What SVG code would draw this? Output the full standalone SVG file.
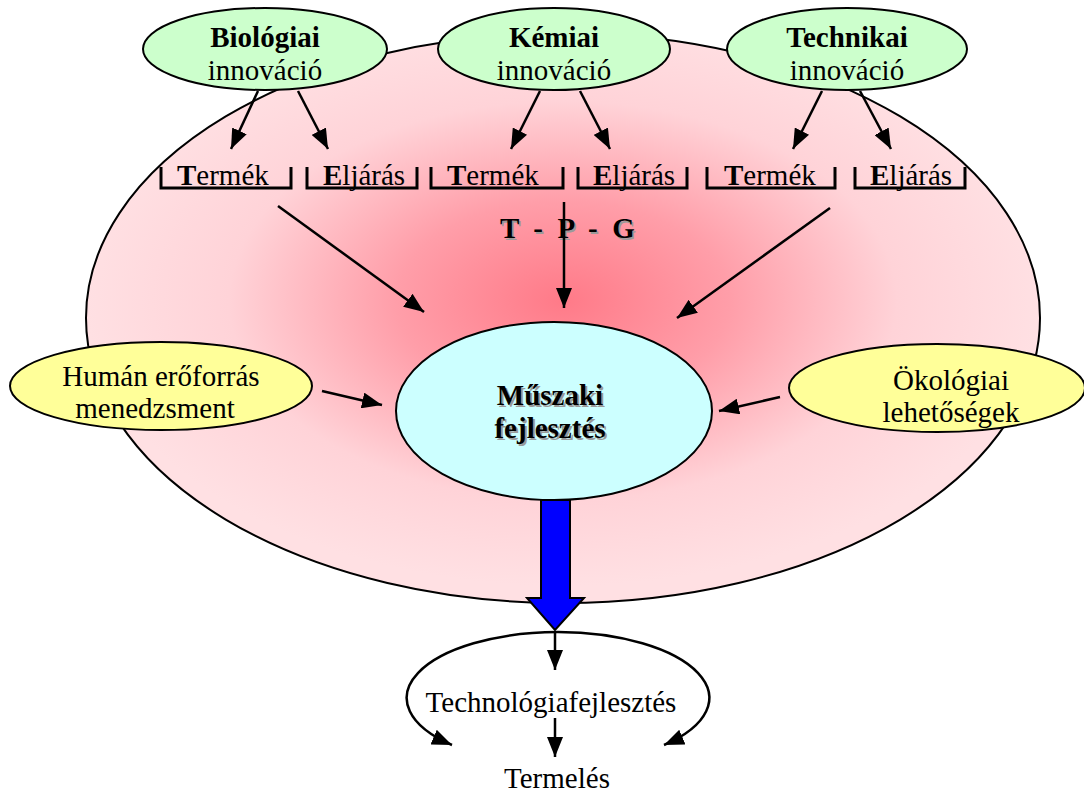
<svg xmlns="http://www.w3.org/2000/svg" width="1084" height="796" viewBox="0 0 1084 796">
<style>
text{font-family:"Liberation Serif","Times New Roman",serif;fill:#000;}
.t{font-size:29px;}
.c{text-anchor:middle;}
.b{font-weight:bold;}
.sh{fill:#9a9a9a;}
.node{stroke:#000;stroke-width:2;}
.ln{stroke:#000;stroke-width:2.5;fill:none;}
.br{stroke:#000;stroke-width:3;fill:none;}
</style>
<defs>
<radialGradient id="pink" cx="0.5" cy="0.47" r="0.5">
<stop offset="0" stop-color="#ff7a88"/>
<stop offset="0.35" stop-color="#ff9ea9"/>
<stop offset="0.7" stop-color="#ffd3d8"/>
<stop offset="1" stop-color="#ffe0e3"/>
</radialGradient>
<marker id="ah" viewBox="0 0 10 10" refX="10" refY="5" markerWidth="8" markerHeight="8" markerUnits="userSpaceOnUse" orient="auto" style="overflow:visible">
<path d="M0,0 L10,5 L0,10 z" fill="#000"/>
</marker>
<marker id="a" viewBox="0 0 20 16" refX="20" refY="8" markerWidth="20" markerHeight="16" markerUnits="userSpaceOnUse" orient="auto">
<path d="M0,0 L20,8 L0,16 z" fill="#000"/>
</marker>
</defs>

<g id="background">
<ellipse cx="563" cy="318" rx="477" ry="285" fill="url(#pink)" stroke="#000" stroke-width="2"/>
</g>

<g id="biologiai">
<ellipse class="node" cx="265" cy="49" rx="122" ry="41" fill="#ccffcc"/>
<text class="t c b" x="265" y="47">Biológiai</text>
<text class="t c" x="265" y="80">innováció</text>
</g>
<g id="kemiai">
<ellipse class="node" cx="554" cy="49" rx="116" ry="41" fill="#ccffcc"/>
<text class="t c b" x="554" y="47">Kémiai</text>
<text class="t c" x="554" y="80">innováció</text>
</g>
<g id="technikai">
<ellipse class="node" cx="847" cy="49" rx="120" ry="41" fill="#ccffcc"/>
<text class="t c b" x="847" y="47">Technikai</text>
<text class="t c" x="847" y="80">innováció</text>
</g>

<g id="brackets">
<path class="br" d="M161,167 V188 H291 V167"/>
<text class="t" x="177" y="185"><tspan class="b">T</tspan>ermék</text>
<path class="br" d="M307,167 V188 H417 V167"/>
<text class="t" x="323" y="185"><tspan class="b">E</tspan>ljárás</text>
<path class="br" d="M431,167 V188 H563 V167"/>
<text class="t" x="447" y="185"><tspan class="b">T</tspan>ermék</text>
<path class="br" d="M578,167 V188 H687 V167"/>
<text class="t" x="593" y="185"><tspan class="b">E</tspan>ljárás</text>
<path class="br" d="M707,167 V188 H835 V167"/>
<text class="t" x="724" y="185"><tspan class="b">T</tspan>ermék</text>
<path class="br" d="M855,167 V188 H965 V167"/>
<text class="t" x="870" y="185"><tspan class="b">E</tspan>ljárás</text>
</g>

<g id="tpg">
<text class="t b sh" x="501.5" y="239.5" xml:space="preserve">T  -  P  -  G</text>
<text class="t b" x="500" y="238" xml:space="preserve">T  -  P  -  G</text>
</g>

<g id="connectors">
<line class="ln" x1="258" y1="91" x2="231" y2="149" marker-end="url(#a)"/>
<line class="ln" x1="298" y1="91" x2="328" y2="149" marker-end="url(#a)"/>
<line class="ln" x1="540" y1="91" x2="511" y2="149" marker-end="url(#a)"/>
<line class="ln" x1="580" y1="91" x2="610" y2="149" marker-end="url(#a)"/>
<line class="ln" x1="822" y1="91" x2="793" y2="149" marker-end="url(#a)"/>
<line class="ln" x1="860" y1="91" x2="891" y2="149" marker-end="url(#a)"/>
<line class="ln" x1="278" y1="206" x2="424" y2="312" marker-end="url(#a)"/>
<line class="ln" x1="564" y1="202" x2="564" y2="308" marker-end="url(#a)"/>
<line class="ln" x1="830" y1="208" x2="677" y2="318" marker-end="url(#a)"/>
<line class="ln" x1="322" y1="391" x2="382" y2="405" marker-end="url(#a)"/>
<line class="ln" x1="780" y1="397" x2="719" y2="411" marker-end="url(#a)"/>
<path d="M541,500 H570 V598 H584 L555,630 L527,598 H541 Z" fill="#0000ff" stroke="#000" stroke-width="2"/>
<line class="ln" x1="555" y1="631" x2="555" y2="670" marker-end="url(#a)"/>
<line class="ln" x1="555" y1="718" x2="555" y2="757" marker-end="url(#a)"/>
<path class="ln" d="M558,632 A152 66 0 0 0 452,745" marker-end="url(#a)"/>
<path class="ln" d="M558,632 A152 66 0 0 1 664,745" marker-end="url(#a)"/>
</g>

<g id="muszaki">
<ellipse class="node" cx="554" cy="411" rx="158" ry="89" fill="#ccffff"/>
<text class="t c b sh" x="552" y="407">Műszaki</text>
<text class="t c b sh" x="552" y="440">fejlesztés</text>
<text class="t c b" x="550" y="405">Műszaki</text>
<text class="t c b" x="550" y="438">fejlesztés</text>
</g>

<g id="human">
<ellipse class="node" cx="161" cy="386" rx="151" ry="44" fill="#ffff99"/>
<text class="t c" x="161" y="386">Humán erőforrás</text>
<text class="t c" x="155" y="418">menedzsment</text>
</g>

<g id="okologiai">
<ellipse class="node" cx="937" cy="388" rx="148" ry="44" fill="#ffff99"/>
<text class="t c" x="951" y="390">Ökológiai</text>
<text class="t c" x="951" y="422">lehetőségek</text>
</g>

<g id="technologia">
<text class="t c" x="551" y="712">Technológiafejlesztés</text>
</g>
<g id="termeles">
<text class="t c" x="557" y="788">Termelés</text>
</g>
</svg>
